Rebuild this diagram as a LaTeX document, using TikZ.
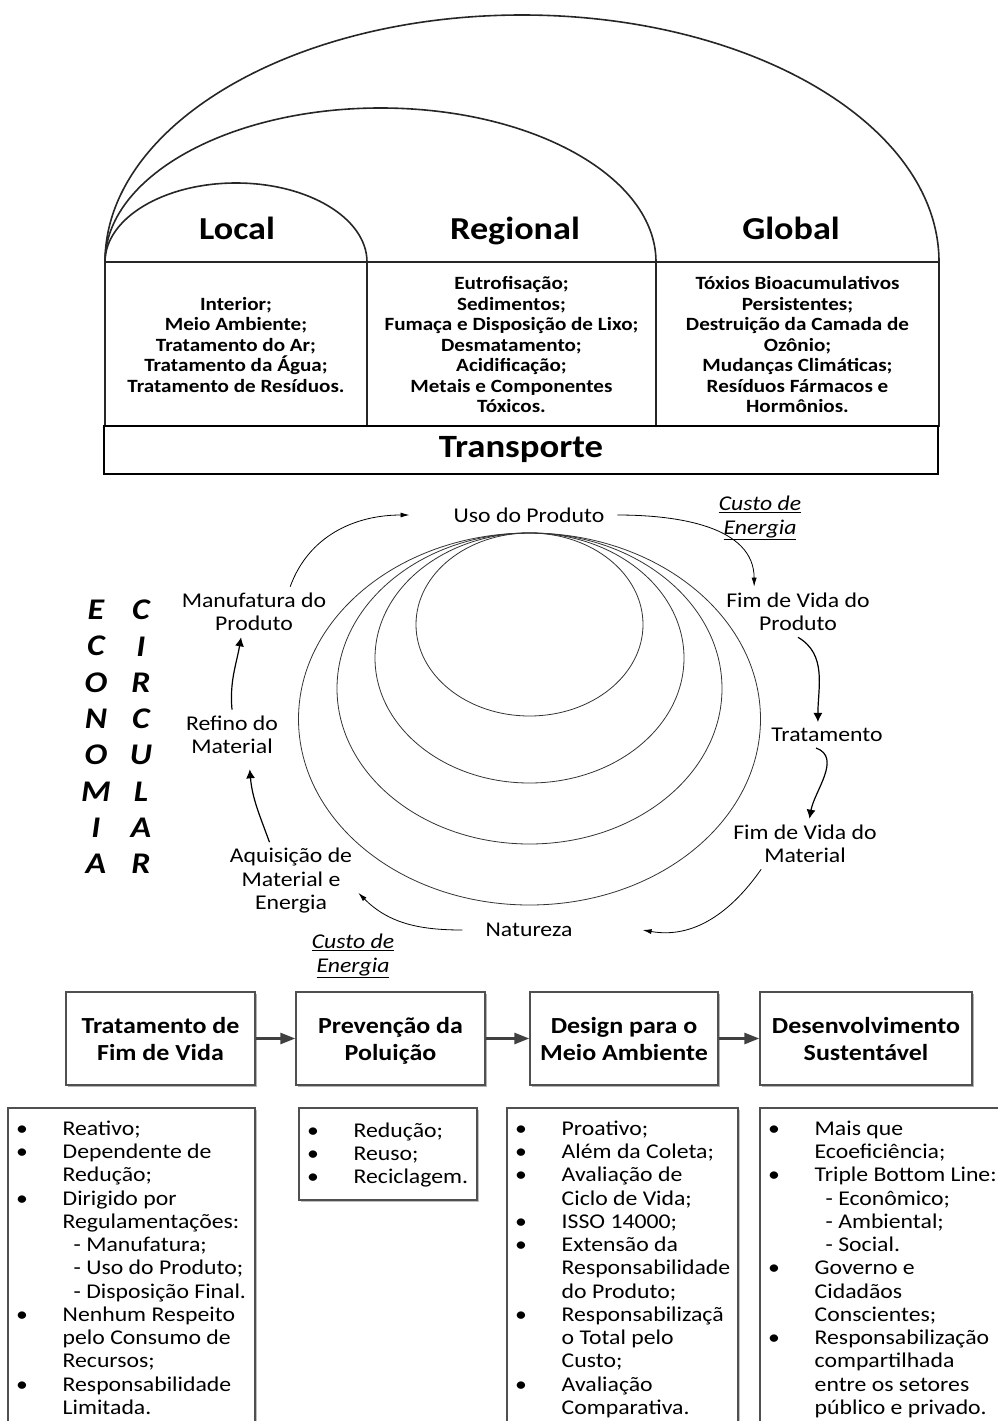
\documentclass[tikz,border=0pt]{standalone}
\usepackage{fontspec}
\setmainfont{Carlito}[FakeStretch=1.13]
\usepackage{tikz}
\usetikzlibrary{positioning}
\usetikzlibrary{arrows.meta}
\usetikzlibrary{shadows}
\definecolor{box_gray}{HTML}{505050}
\definecolor{flow_gray}{HTML}{404040}
\tikzset{my_px/.style={x=1pt,y=1pt}}
\tikzset{my_frame/.style={line width=1.6pt, draw=black!85}}
\tikzset{my_transport/.style={draw=black, line width=2.8pt, minimum width=834pt, minimum height=48pt, font=\fontsize{32.5}{36}\selectfont\bfseries}}
\tikzset{my_scale_label/.style={anchor=base, font=\fontsize{32}{36}\selectfont\bfseries}}
\tikzset{my_impacts/.style={align=center, font=\fontsize{18.7}{20.5}\selectfont\bfseries}}
\tikzset{my_orbit/.style={line width=0.8pt, draw=black!80}}
\tikzset{my_cycle/.style={->,>={Latex[length=9pt,width=5pt]}, line width=0.8pt}}
\tikzset{my_cycle_bold/.style={->,>={Latex[length=9pt,width=9pt]}, line width=1.2pt}}
\tikzset{my_step_label/.style={align=center, inner sep=6pt, font=\fontsize{21}{23.5}\selectfont}}
\tikzset{my_cost/.style={align=center, inner sep=6pt, font=\fontsize{21}{23.5}\selectfont\itshape}}
\tikzset{my_letters/.style={align=center, font=\fontsize{30}{36.3}\selectfont\bfseries\itshape}}
\tikzset{my_stage/.style={draw=box_gray, line width=1.3pt, fill=white, minimum height=93pt, align=center, inner sep=0pt,
    font=\fontsize{23}{26.5}\selectfont\bfseries, drop shadow={shadow xshift=2pt, shadow yshift=-2pt, fill=black!30, opacity=1}}}
\tikzset{my_flow/.style={-{Triangle[length=15pt,width=11pt]}, line width=2.6pt, draw=flow_gray}}
\tikzset{my_list_box/.style={draw=box_gray, line width=1.3pt, fill=white, drop shadow={shadow xshift=2pt, shadow yshift=-2pt, fill=black!25, opacity=1}}}
\tikzset{my_list/.style={align=left, anchor=north west, inner sep=0pt, font=\fontsize{21}{23.25}\selectfont}}
\newcommand{\itm}{\strut\makebox[54.5pt][l]{\hspace{8pt}\textbullet}}
\newcommand{\cnt}{\strut\hspace*{54.5pt}}
\newcommand{\subitm}{\strut\hspace*{65.5pt}}
\newcommand{\stagetop}{\rule{0pt}{22pt}}
\newcommand{\stagebot}{\rule[-5pt]{0pt}{5pt}}

\begin{document}
\begin{tikzpicture}[my_px]
    \useasboundingbox (0,0) rectangle (998,-1421);
    \clip (0,0) rectangle (998,-1421);

    % scales: local, regional, global
    \draw[my_frame] (105,-262) arc[start angle=180, end angle=0, x radius=417, y radius=247];
    \draw[my_frame] (105,-262) arc[start angle=180, end angle=0, x radius=275.5, y radius=154];
    \draw[my_frame] (105,-262) arc[start angle=180, end angle=0, x radius=131, y radius=79];
    \draw[my_frame] (105,-262) -- (939,-262);
    \foreach \x in {105, 367, 656, 939}
        \draw[my_frame] (\x,-262) -- (\x,-427);
    \node[my_transport] (transp) at (521,-450) {Transporte};

    \node[my_scale_label] (local) at (237,-239) {Local};
    \node[my_scale_label] (regional) at (515,-239) {Regional};
    \node[my_scale_label] (global) at (791,-239) {Global};

    \node[my_impacts] (local_list) at (236,-345) {Interior;\\Meio Ambiente;\\Tratamento do Ar;\\Tratamento da Água;\\Tratamento de Resíduos.};
    \node[my_impacts] (regional_list) at (511.5,-344.5) {Eutrofisação;\\Sedimentos;\\Fumaça e Disposição de Lixo;\\Desmatamento;\\Acidificação;\\Metais e Componentes\\Tóxicos.};
    \node[my_impacts] (global_list) at (797.5,-344.5) {Tóxios Bioacumulativos\\Persistentes;\\Destruição da Camada de\\Ozônio;\\Mudanças Climáticas;\\Resíduos Fármacos e\\Hormônios.};

    % life cycle
    \foreach \rx/\ry in {113.5/91.5, 154.5/125, 192.5/155.5, 231/186}
        \draw[my_orbit] (529.5,{-533-\ry}) ellipse[x radius=\rx, y radius=\ry];

    \node[my_letters] (econ) at (96,-737) {E\\C\\O\\N\\O\\M\\I\\A};
    \node[my_letters] (circ) at (141,-737) {C\\I\\R\\C\\U\\L\\A\\R};

    \node[my_step_label] (uso) at (529,-515) {Uso do Produto};
    \node[my_step_label] (fimprod) at (798,-612) {Fim de Vida do\\Produto};
    \node[my_step_label] (trat) at (827,-735) {Tratamento};
    \node[my_step_label] (fimmat) at (805,-844) {Fim de Vida do\\Material};
    \node[my_step_label] (nat) at (529,-930) {Natureza};
    \node[my_step_label] (aquis) at (291,-881) {Aquisição de\\Material e\\Energia};
    \node[my_step_label] (refino) at (232,-735) {Refino do\\Material};
    \node[my_step_label] (manuf) at (254,-612) {Manufatura do\\Produto};
    \node[my_cost] (cost_top) at (760,-518) {\underline{Custo de}\\\underline{Energia}};
    \node[my_cost] (cost_bottom) at (353,-956) {\underline{Custo de}\\\underline{Energia}};

    \path
        (manuf.35) edge [my_cycle, out=70, in=180] ([xshift=-38pt]uso.west)
        ([xshift=7pt]uso.east) edge [my_cycle, out=0, in=90] (fimprod.150)
        (fimprod.south) edge [my_cycle_bold, out=-30, in=90] (trat.125)
        (trat.-130) edge [my_cycle_bold, out=-20, in=80] (fimmat.80)
        (fimmat.-150) edge [my_cycle, out=-125, in=-10] ([xshift=64pt]nat.east)
        ([xshift=-17pt]nat.west) edge [my_cycle, out=180, in=-45] (aquis.-10)
        (aquis.119) edge [my_cycle_bold, out=110, in=-85] ([yshift=-9pt]refino.-55)
        (refino.north) edge [my_cycle_bold, out=95, in=-100] (manuf.-117)
    ;

    % stages
    \node[my_stage, minimum width=189pt] (tfv) at (160.5,-1038.5) {\stagetop Tratamento de\\Fim de Vida\stagebot};
    \node[my_stage, minimum width=189pt] (pp) at (390.5,-1038.5) {\stagetop Prevenção da\\Poluição\stagebot};
    \node[my_stage, minimum width=188pt] (dma) at (624,-1038.5) {\stagetop Design para o\\Meio Ambiente\stagebot};
    \node[my_stage, minimum width=212pt] (ds) at (866,-1038.5) {\stagetop Desenvolvimento\\Sustentável\stagebot};
    \draw[my_flow] (tfv) -- (pp);
    \draw[my_flow] (pp) -- (dma);
    \draw[my_flow] (dma) -- (ds);

    \path[my_list_box] (8,-1108) rectangle (255,-1440);
    \path[my_list_box] (299,-1108) rectangle (477,-1200);
    \path[my_list_box] (507,-1108) rectangle (738,-1440);
    \path[my_list_box] (760,-1108) rectangle (1010,-1440);

    \node[my_list] (tfv_list) at (8,-1119) {\itm Reativo;\\\itm Dependente de\\\cnt Redução;\\\itm Dirigido por\\\cnt Regulamentações:\\\subitm - Manufatura;\\\subitm - Uso do Produto;\\\subitm - Disposição Final.\\\itm Nenhum Respeito\\\cnt pelo Consumo de\\\cnt Recursos;\\\itm Responsabilidade\\\cnt Limitada.};
    \node[my_list] (pp_list) at (299,-1121) {\itm Redução;\\\itm Reuso;\\\itm Reciclagem.};
    \node[my_list] (dma_list) at (507,-1119) {\itm Proativo;\\\itm Além da Coleta;\\\itm Avaliação de\\\cnt Ciclo de Vida;\\\itm ISSO 14000;\\\itm Extensão da\\\cnt Responsabilidade\\\cnt do Produto;\\\itm Responsabilizaçã\\\cnt o Total pelo\\\cnt Custo;\\\itm Avaliação\\\cnt Comparativa.};
    \node[my_list] (ds_list) at (760,-1119) {\itm Mais que\\\cnt Ecoeficiência;\\\itm Triple Bottom Line:\\\subitm - Econômico;\\\subitm - Ambiental;\\\subitm - Social.\\\itm Governo e\\\cnt Cidadãos\\\cnt Conscientes;\\\itm Responsabilização\\\cnt compartilhada\\\cnt entre os setores\\\cnt público e privado.};
\end{tikzpicture}
\end{document}
